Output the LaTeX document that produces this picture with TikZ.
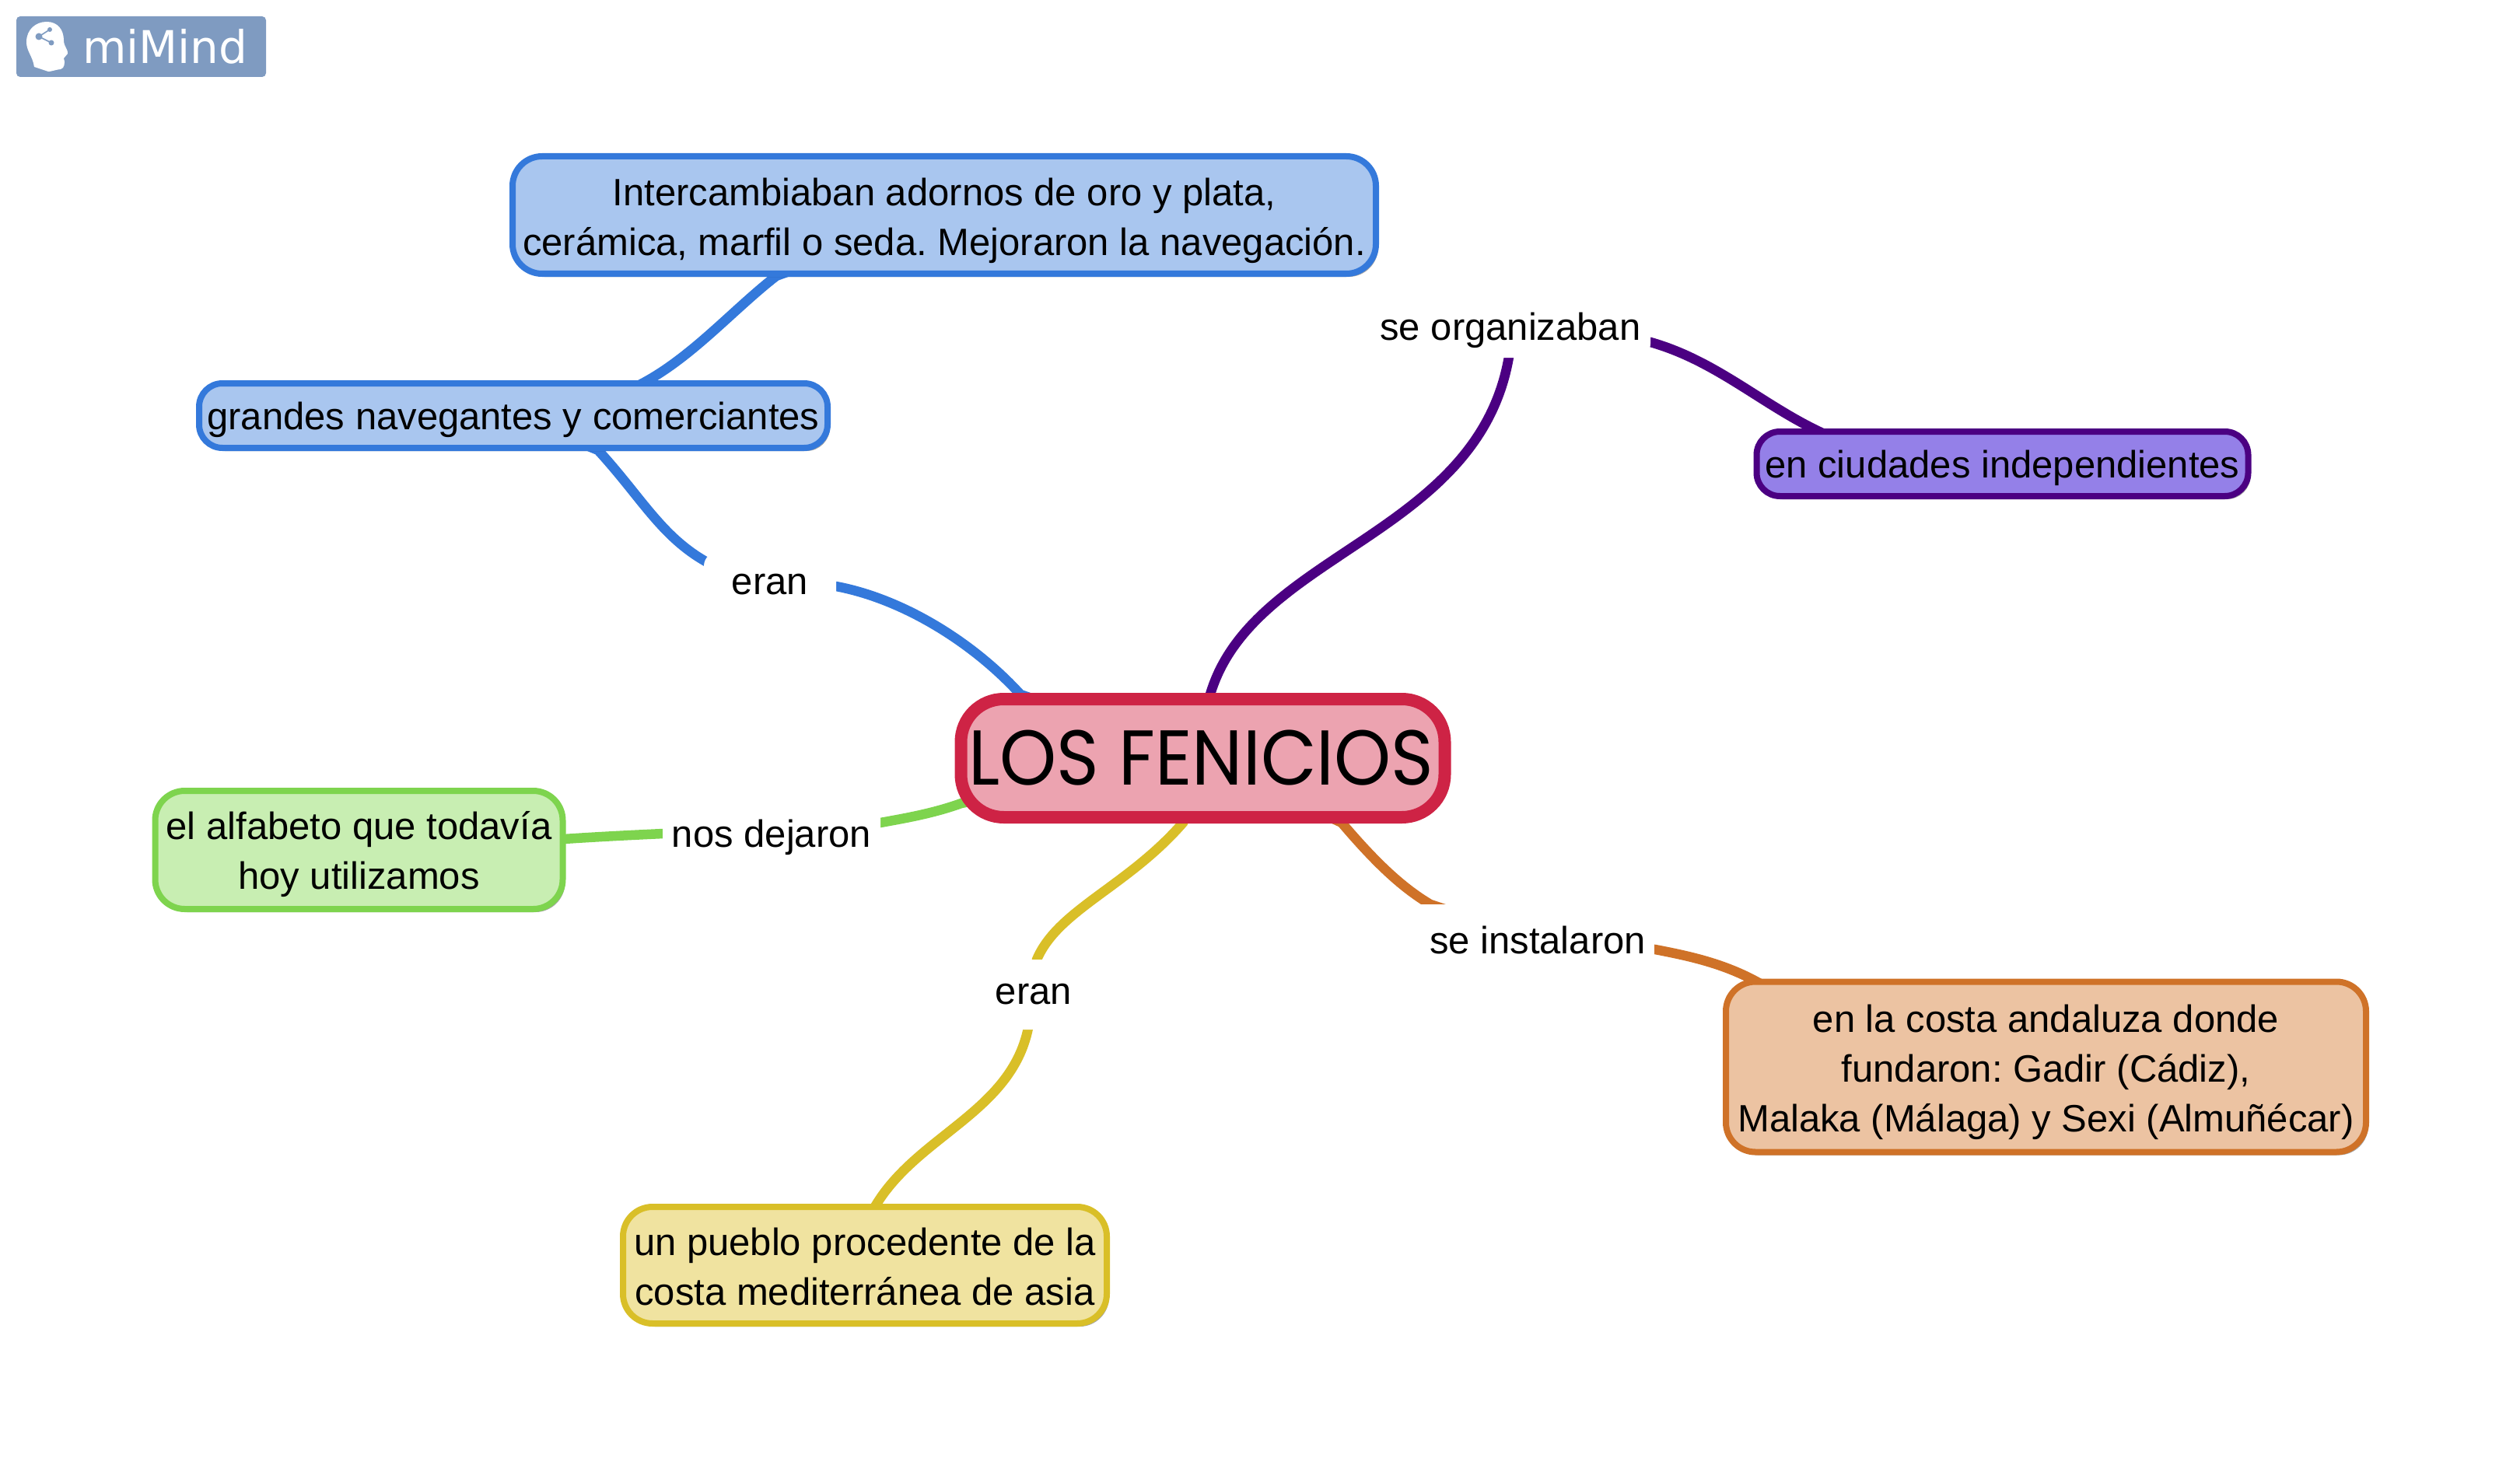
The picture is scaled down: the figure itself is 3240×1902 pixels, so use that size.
\documentclass[tikz,border=0pt]{standalone}
\usepackage{fontspec}
\setmainfont{Liberation Sans}
\newfontfamily\titlefont{Poppins}[FakeStretch=0.93]
\newfontfamily\logofont{DejaVu Sans}
\usetikzlibrary{shadows,backgrounds}
\definecolor{blueB}{HTML}{3479DB}\definecolor{blueF}{HTML}{A9C6EF}
\definecolor{purB}{HTML}{4B0082}\definecolor{purF}{HTML}{9480E8}
\definecolor{grnB}{HTML}{7ED44E}\definecolor{grnF}{HTML}{C8EEB2}
\definecolor{yelB}{HTML}{D9BF28}\definecolor{yelF}{HTML}{F0E3A0}
\definecolor{orgB}{HTML}{CF7228}\definecolor{orgF}{HTML}{ECC3A2}
\definecolor{redB}{HTML}{CE2345}\definecolor{redF}{HTML}{ECA3B0}
\definecolor{logoC}{HTML}{7F9BC1}
\newcommand{\dn}[1]{\rule{0pt}{#1pt}}
\frenchspacing
\tikzset{
  x=1pt,y=-1pt,
  idea/.style={draw=#1B,fill=#1F,line width=8pt,rounded corners=38pt,align=center,inner sep=0pt,
    font=\fontsize{49}{64}\selectfont\frenchspacing,text=black,
    drop shadow={shadow xshift=3pt,shadow yshift=-4pt,opacity=.35,fill=black}},
  link/.style={fill=white,rounded corners=18pt,inner sep=0pt,font=\fontsize{49}{64}\selectfont,text=black},
  wire/.style={draw=#1,line width=12.5pt}
}
\begin{document}
\begin{tikzpicture}
\useasboundingbox (0,0) rectangle (3240,1902);
% logo
\node[fill=logoC,rounded corners=5pt,minimum width=321pt,minimum height=78pt,inner sep=0pt] (logo) at (181.5,60) {};
\node[anchor=base west,inner sep=0pt,text=white,font=\logofont\fontsize{58}{60}\selectfont] (logotext) at (106,81.7) {miMind};
\fill[white] (44,86) .. controls (42,72) and (34,66) .. (34,54) .. controls (34,38) and (46,28) .. (60,28)
  .. controls (74,28) and (82,38) .. (82,52) .. controls (82,60) and (88,64) .. (87,69)
  .. controls (86,72) and (83,72) .. (82,75) .. controls (84,80) and (83,88) .. (78,89)
  .. controls (70,90) and (66,92) .. (62,92) .. controls (56,90) and (50,88) .. (44,86) -- cycle;
\draw[logoC,line width=1.6pt] (50,47) -- (64,38) (50,47) -- (66,55);
\fill[logoC] (50,47) circle (4.5) (64,38) circle (3) (66,55) circle (3.5);
% main
\node[idea=red,line width=16pt,rounded corners=55pt,minimum width=622pt,minimum height=152pt,
  font=\titlefont\fontsize{100}{110}\selectfont] (title) at (1546.5,975) {\hspace{-2pt}LOS FENICIOS\hspace{2pt}};
\node[idea=blue,minimum width=1110pt,minimum height=151pt] (big) at (1214,276.5) {\dn{51}Intercambiaban adornos de oro y plata,\\cerámica, marfil o seda. Mejoraron la navegación.};
\node[idea=blue,minimum width=808pt,minimum height=83pt,rounded corners=30pt] (nav) at (660,534.5) {\dn{47}grandes navegantes y comerciantes};
\node[idea=pur,minimum width=632pt,minimum height=83pt,rounded corners=30pt] (ciu) at (2574.5,596.5) {\dn{47}en ciudades independientes};
\node[idea=grn,minimum width=524pt,minimum height=152pt] (alf) at (461.5,1093) {\dn{47}el alfabeto que todavía\\hoy utilizamos};
\node[idea=yel,minimum width=622pt,minimum height=150pt] (pue) at (1112,1627) {\dn{39}un pueblo procedente de la\\costa mediterránea de asia};
\node[idea=org,minimum width=823pt,minimum height=219pt] (cos) at (2630.5,1372) {\dn{49}en la costa andaluza donde\\fundaron: Gadir (Cádiz),\\Malaka (Málaga) y Sexi (Almuñécar)};
% labels
\node[link,minimum width=170pt,minimum height=84pt] (l1) at (990,752) {eran};
\node[link,minimum width=360pt,minimum height=70pt] (l2) at (1942,425) {se organizaban};
\node[link,minimum width=280pt,minimum height=84pt] (l3) at (992,1077) {nos dejaron};
\node[link,minimum width=120pt,minimum height=90pt] (l4) at (1329,1279) {eran};
\node[link,rounded corners=0pt,minimum width=300pt,minimum height=92pt] (l5) at (1977,1209) {se instalaron};
% connectors
\begin{scope}[on background layer]
\draw[wire=blueB] (title.center) -- (1312,893) .. controls (1250,825) and (1160,770) .. (1075,754) -- (l1.center);
\draw[wire=blueB] (l1.center) -- (909,723) .. controls (850,690) and (825,640) .. (769,579) -- (nav.center);
\draw[wire=blueB] (nav.center) -- (816,498) .. controls (885,465) and (940,400) .. (998,355) -- (big.center);
\draw[wire=purB] (title.center) -- (1556,893) .. controls (1610,710) and (1900,690) .. (1940,459) -- (l2.center);
\draw[wire=purB] (l2.center) -- (2122,440) .. controls (2210,465) and (2270,525) .. (2350,560) -- (ciu.center);
\draw[wire=grnB] (title.center) -- (1236,1033) .. controls (1200,1046) and (1165,1052) .. (1132,1058) -- (l3.center);
\draw[wire=grnB] (l3.center) -- (853,1072) .. controls (810,1074) and (770,1076) .. (725,1079) -- (alf.center);
\draw[wire=yelB] (title.center) -- (1521,1058) .. controls (1450,1140) and (1360,1170) .. (1333,1234) -- (l4.center);
\draw[wire=yelB] (l4.center) -- (1322,1322) .. controls (1300,1430) and (1180,1460) .. (1126,1550) -- (pue.center);
\draw[wire=orgB] (title.center) -- (1725,1058) .. controls (1765,1105) and (1800,1140) .. (1839,1163) -- (l5.center);
\draw[wire=orgB] (l5.center) -- (2128,1221) .. controls (2175,1230) and (2220,1240) .. (2265,1266) -- (cos.center);
\end{scope}
\end{tikzpicture}
\end{document}
